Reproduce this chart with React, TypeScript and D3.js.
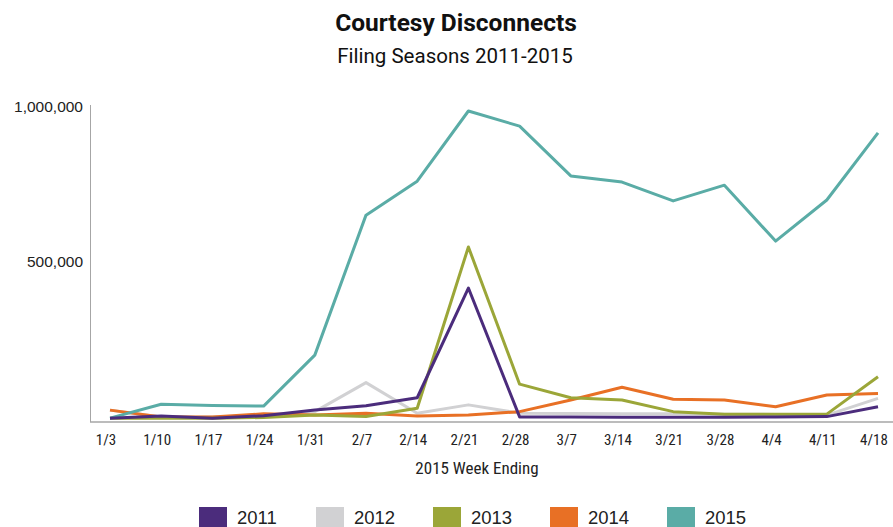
import React, { useEffect, useRef } from "react";
import * as d3 from "d3";

const weeks = ["1/3", "1/10", "1/17", "1/24", "1/31", "2/7", "2/14", "2/21", "2/28", "3/7", "3/14", "3/21", "3/28", "4/4", "4/11", "4/18"];

const s2011 = [6000, 13000, 6000, 14000, 32000, 46000, 72000, 427000, 10000, 10000, 9000, 9000, 9000, 10000, 11000, 43000];
const s2012 = [32000, 10000, 10000, 12000, 27000, 121000, 22000, 49000, 22000, 21000, 20000, 20000, 19000, 18000, 16000, 70000];
const s2013 = [6000, 6000, 6000, 8000, 16000, 11000, 38000, 560000, 116000, 72000, 65000, 27000, 19000, 19000, 19000, 140000];
const s2014 = [32000, 10000, 10000, 20000, 16000, 22000, 13000, 16000, 27000, 65000, 106000, 67000, 65000, 43000, 81000, 86000];
const s2015 = [6000, 51000, 47000, 45000, 210000, 663000, 773000, 1000000, 951000, 790000, 770000, 709000, 760000, 579000, 712000, 929000];

const yTicks = [500000, 1000000];

const series = [
  { name: "2011", values: s2011, color: "#4b2c7c" },
  { name: "2012", values: s2012, color: "#d1d1d3" },
  { name: "2013", values: s2013, color: "#9ba638" },
  { name: "2014", values: s2014, color: "#e87025" },
  { name: "2015", values: s2015, color: "#5aaca6" },
];

// drawing order so purple ends up on top like the original
const drawOrder = ["2012", "2014", "2013", "2015", "2011"];

const condensed = "'Liberation Sans Narrow', 'Roboto Condensed', 'Liberation Sans', sans-serif";

const App = () => {
  const svgRef = useRef<SVGSVGElement>(null);

  useEffect(() => {
    const svg = d3.select(svgRef.current);
    svg.selectAll("*").remove();

    const width = 893;
    const height = 527;

    const x = d3.scalePoint<string>().domain(weeks).range([110, 878]);
    const y = d3.scaleLinear().domain([0, 1000000]).range([420, 111]);

    svg.append("text")
      .attr("x", 456).attr("y", 31)
      .attr("text-anchor", "middle")
      .attr("font-family", "Roboto, sans-serif")
      .attr("font-weight", "bold")
      .attr("font-size", 24.5)
      .attr("fill", "#111")
      .text("Courtesy Disconnects");

    svg.append("text")
      .attr("x", 455).attr("y", 63)
      .attr("text-anchor", "middle")
      .attr("font-family", "Roboto, sans-serif")
      .attr("font-size", 20.5)
      .attr("fill", "#111")
      .text("Filing Seasons 2011-2015");

    // axes
    svg.append("line")
      .attr("x1", 90).attr("x2", 893)
      .attr("y1", 422).attr("y2", 422)
      .attr("stroke", "#a6a6a6").attr("stroke-width", 1.5);
    svg.append("line")
      .attr("x1", 90.5).attr("x2", 90.5)
      .attr("y1", 105).attr("y2", 422)
      .attr("stroke", "#a6a6a6").attr("stroke-width", 1);

    svg.selectAll(".ytick")
      .data(yTicks)
      .enter()
      .append("text")
      .attr("x", 83)
      .attr("y", d => y(d) - 4)
      .attr("dy", "0.35em")
      .attr("text-anchor", "end")
      .attr("font-family", "'Liberation Sans', Arial, sans-serif")
      .attr("font-size", 15.5)
      .attr("fill", "#222")
      .text(d => d3.format(",")(d));

    svg.selectAll(".xtick")
      .data(weeks)
      .enter()
      .append("text")
      .attr("x", d => (x(d) as number) - 4)
      .attr("y", 445)
      .attr("text-anchor", "middle")
      .attr("font-family", condensed)
      .attr("font-size", 15)
      .attr("fill", "#222")
      .text(d => d);

    svg.append("text")
      .attr("x", 477).attr("y", 474)
      .attr("text-anchor", "middle")
      .attr("font-family", condensed)
      .attr("font-size", 17)
      .attr("fill", "#222")
      .text("2015 Week Ending");

    const line = d3.line<number>()
      .x((d, i) => x(weeks[i]) as number)
      .y(d => y(d));

    drawOrder.forEach(name => {
      const s = series.find(v => v.name === name)!;
      svg.append("path")
        .datum(s.values)
        .attr("fill", "none")
        .attr("stroke", s.color)
        .attr("stroke-width", 3)
        .attr("stroke-linejoin", "round")
        .attr("d", line);
    });

    // legend
    const legend = svg.append("g");
    series.forEach((s, i) => {
      const lx = 199 + i * 117;
      legend.append("rect")
        .attr("x", lx).attr("y", 507)
        .attr("width", 28).attr("height", 20)
        .attr("fill", s.color);
      legend.append("text")
        .attr("x", lx + 38).attr("y", 524)
        .attr("font-family", "'Liberation Sans', Arial, sans-serif")
        .attr("font-size", 18.5)
        .attr("fill", "#222")
        .text(s.name);
    });

    svg.attr("width", width).attr("height", height);
  }, []);

  return (
    <svg ref={svgRef} width={893} height={527} style={{ position: "absolute", left: 0, top: 0 }} />
  );
};

export default App;
